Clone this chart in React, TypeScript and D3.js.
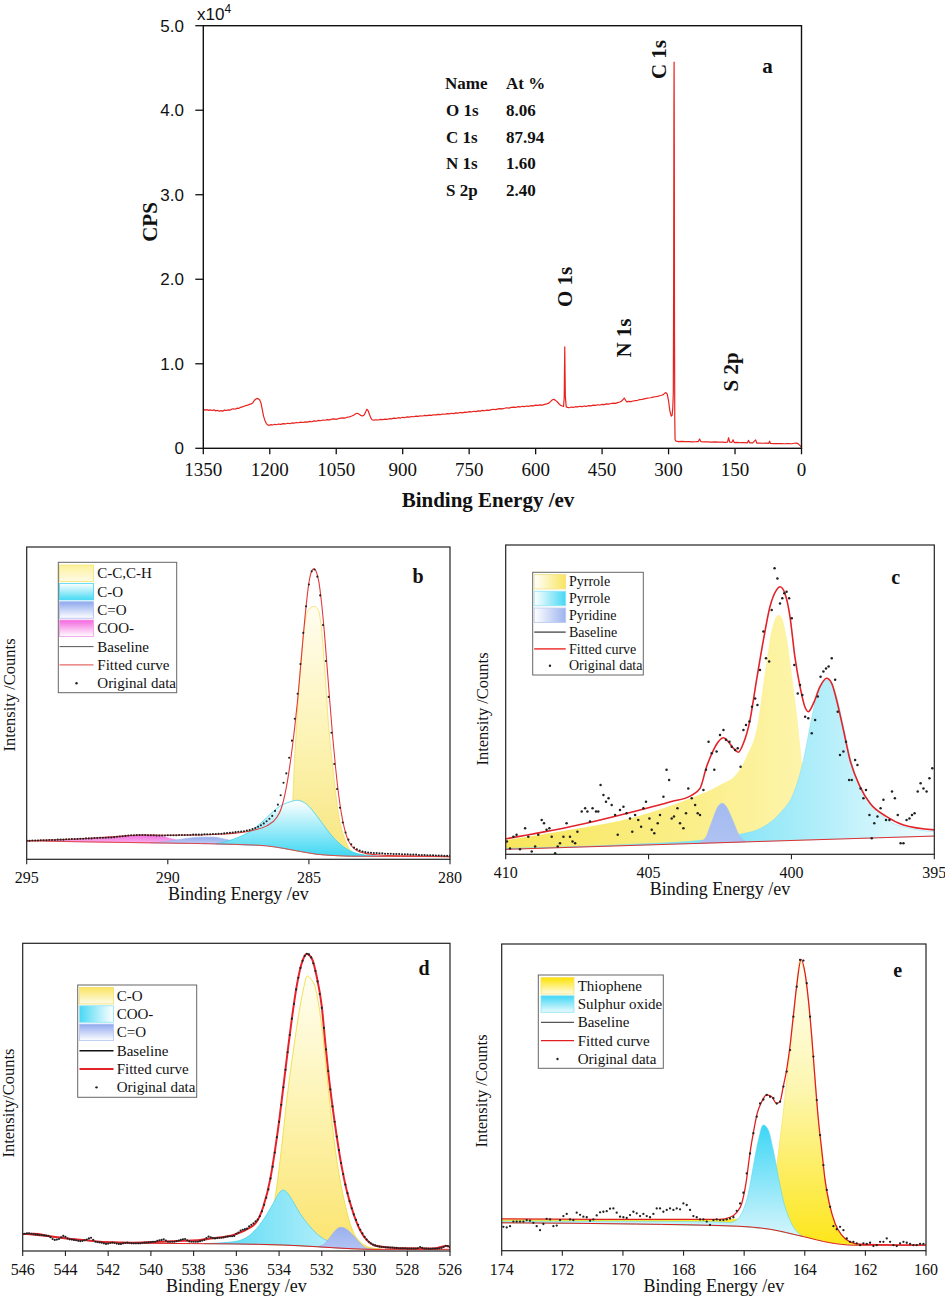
import React from "react";
import * as d3 from "d3";

type Pt = [number, number];

const SERIF = '"Liberation Serif", "Times New Roman", Times, serif';
const SANS = '"Liberation Sans", Arial, Helvetica, sans-serif';

// ================= Panel a : survey spectrum =================
const surveyTicksX = [1350, 1200, 1050, 900, 750, 600, 450, 300, 150, 0];
const surveyTicksY = [0, 1, 2, 3, 4, 5];
const surveyTickLabelsY = ["0", "1.0", "2.0", "3.0", "4.0", "5.0"];
// [binding energy (eV), CPS x10^4]
const surveySpectrum: Pt[] = [
  [1350,0.46],[1346,0.452],[1342,0.458],[1338,0.449],[1334,0.455],[1330,0.447],[1326,0.455],[1322,0.443],[1318,0.45],[1314,0.438],
  [1310,0.446],[1306,0.44],[1302,0.452],[1298,0.447],[1294,0.455],[1290,0.452],[1286,0.463],[1282,0.468],[1278,0.462],[1274,0.475],
  [1270,0.472],[1266,0.485],[1262,0.49],[1258,0.498],[1254,0.505],[1250,0.51],[1246,0.52],[1242,0.525],[1238,0.54],[1235,0.565],
  [1232,0.58],[1229,0.59],[1226,0.585],[1223,0.575],[1220,0.54],[1217,0.46],[1214,0.38],[1211,0.33],[1208,0.295],[1205,0.278],
  [1201,0.272],[1197,0.28],[1193,0.276],[1189,0.284],[1185,0.279],[1180,0.287],[1175,0.283],[1170,0.292],[1165,0.288],[1160,0.296],
  [1155,0.291],[1150,0.3],[1145,0.297],[1140,0.305],[1135,0.302],[1130,0.31],[1125,0.305],[1120,0.313],[1115,0.309],[1110,0.318],
  [1105,0.314],[1100,0.325],[1095,0.32],[1090,0.33],[1085,0.326],[1080,0.335],[1075,0.332],[1070,0.34],[1065,0.336],[1060,0.345],
  [1055,0.348],[1050,0.343],[1045,0.352],[1040,0.356],[1035,0.36],[1030,0.358],[1025,0.368],[1020,0.372],[1015,0.382],[1011,0.392],
  [1007,0.405],[1003,0.415],[999,0.405],[995,0.39],[991,0.382],[987,0.395],[984,0.425],[981,0.462],[978,0.445],[975,0.4],
  [972,0.36],[969,0.338],[965,0.333],[960,0.338],[955,0.335],[950,0.342],[945,0.339],[940,0.346],[935,0.343],[930,0.35],
  [925,0.348],[920,0.357],[915,0.353],[910,0.362],[905,0.358],[900,0.367],[895,0.364],[890,0.372],[885,0.368],[880,0.376],
  [875,0.373],[870,0.38],[865,0.377],[860,0.385],[855,0.382],[850,0.389],[845,0.386],[840,0.393],[835,0.39],[830,0.397],
  [825,0.395],[820,0.402],[815,0.399],[810,0.406],[805,0.403],[800,0.41],[795,0.407],[790,0.415],[785,0.411],[780,0.419],
  [775,0.416],[770,0.424],[765,0.42],[760,0.428],[755,0.426],[750,0.433],[745,0.43],[740,0.438],[735,0.434],[730,0.442],
  [725,0.44],[720,0.448],[715,0.444],[710,0.452],[705,0.449],[700,0.457],[695,0.462],[690,0.458],[685,0.466],[680,0.47],
  [675,0.466],[670,0.474],[665,0.48],[660,0.476],[655,0.484],[650,0.488],[645,0.485],[640,0.492],[635,0.489],[630,0.497],
  [625,0.494],[620,0.5],[615,0.497],[610,0.505],[605,0.502],[600,0.51],[595,0.507],[590,0.514],[585,0.511],[580,0.52],
  [575,0.525],[570,0.535],[566,0.555],[562,0.575],[559,0.58],[556,0.57],[552,0.555],[548,0.53],[544,0.51],[540,0.5],
  [537,0.495],[535.5,0.6],[534.3,1.2],[533,0.62],[531,0.49],[528,0.485],[524,0.48],[520,0.488],[515,0.485],[510,0.492],
  [505,0.49],[500,0.497],[495,0.494],[490,0.5],[485,0.497],[480,0.505],[475,0.502],[470,0.51],[465,0.507],[460,0.515],
  [455,0.512],[450,0.52],[445,0.517],[440,0.525],[435,0.522],[430,0.53],[425,0.535],[420,0.532],[415,0.54],[410,0.548],
  [406,0.558],[403,0.575],[400,0.595],[397,0.568],[394,0.55],[390,0.555],[385,0.552],[380,0.56],[375,0.565],[370,0.568],
  [365,0.575],[360,0.578],[355,0.585],[350,0.59],[345,0.595],[340,0.598],[335,0.605],[330,0.61],[325,0.615],[320,0.622],
  [316,0.628],[312,0.635],[309,0.65],[306,0.66],[303,0.64],[300,0.56],[297,0.44],[294,0.38],[292,0.39],[290.5,0.48],
  [289.3,0.65],[288.5,2.0],[287.9,4.0],[287.5,4.57],[287.1,3.6],[286.6,1.4],[286,0.35],[285.3,0.1],[283,0.085],[278,0.08],
  [270,0.083],[262,0.078],[254,0.08],[246,0.076],[238,0.078],[233,0.08],[230,0.11],[227,0.078],[220,0.075],[212,0.077],
  [204,0.073],[196,0.075],[188,0.072],[180,0.074],[172,0.07],[167,0.072],[164.5,0.125],[162,0.072],[157,0.07],[154.5,0.1],
  [152,0.068],[145,0.07],[138,0.066],[130,0.068],[122,0.065],[119.5,0.095],[117,0.064],[110,0.065],[103.5,0.1],[101,0.062],
  [95,0.063],[88,0.06],[80,0.061],[74,0.058],[72,0.085],[70,0.057],[62,0.056],[54,0.055],[46,0.056],[38,0.054],
  [30,0.055],[22,0.054],[16,0.06],[12,0.062],[8,0.055],[5,0.04],[2,0.025],[0,0.015],
];
const tableHeader = ["Name", "At %"];
const elementNames = ["O 1s", "C 1s", "N 1s", "S 2p"];
const atomicPercents = ["8.06", "87.94", "1.60", "2.40"];
const peakNames = ["C 1s", "O 1s", "N 1s", "S 2p"];
const peakLabelEnergy = [305.7, 517.7, 384.6, 143.2];
const peakLabelCps = [4.6, 1.91, 1.305, 0.903];

// ================= Panel b : C 1s =================
const bTicks = [295, 290, 285, 280];
const bLegendLabels = ["C-C,C-H", "C-O", "C=O", "COO-", "Baseline", "Fitted curve", "Original data"];
const bBaseline: Pt[] = [[295,5.9],[292.4,5.5],[290,5.2],[287.7,4.8],[286.5,4.3],[285.9,3.5],[285.3,2.5],[284.7,1.6],[284.1,1.2],[283.5,1.0],[280,0.85]];
const bCC: Pt[] = [[285.85,4],[285.7,7],[285.62,12],[285.57,18.7],[285.53,27.7],[285.43,43.7],[285.32,59.7],[285.14,75.7],[285.0,80],[284.81,81],[284.65,79.5],[284.58,75.7],[284.43,59.7],[284.31,43.7],[284.13,27.7],[283.96,14.9],[283.72,6.4],[283.45,2.2],[283.2,1.2]];
const bCO: Pt[] = [[288.3,5.0],[287.68,6.4],[286.97,9.6],[286.5,13.3],[286.03,17],[285.67,18.4],[285.4,18.9],[285.08,17.6],[284.72,13.9],[284.37,9.6],[284.02,5.9],[283.54,2.7],[282.95,1.3],[282.3,0.95]];
const bCdO: Pt[] = [[290.6,5.25],[290,5.8],[289.4,6.6],[288.8,7.1],[288.4,7.1],[287.9,6.3],[287.4,5.3],[287.0,4.75]];
const bCOO: Pt[] = [[294.3,5.8],[293.5,6.3],[292.5,6.9],[291.6,7.5],[290.9,7.8],[290.3,7.5],[289.8,6.4],[289.3,5.4],[289.0,5.1]];
const bFitted: Pt[] = [[295,5.9],[293.5,6.4],[292.4,6.9],[291.5,7.5],[290.87,7.8],[290.04,7.7],[288.86,7.8],[288,8.1],[287.68,8.3],[286.97,9.3],[286.5,10.7],[286.14,13.4],[286.0,15.8],[285.9,18.8],[285.8,23],[285.7,28.5],[285.6,35],[285.5,42.5],[285.4,51],[285.3,61],[285.2,71.5],[285.1,81],[285.0,88.5],[284.9,92.3],[284.82,93],[284.75,92.3],[284.65,89],[284.55,82],[284.45,72.5],[284.35,61],[284.25,49.5],[284.15,38.5],[284.05,29],[283.95,21],[283.85,14.8],[283.75,10.2],[283.65,7],[283.5,4.4],[283.3,2.8],[283.0,1.9],[282.5,1.4],[281.5,1.1],[280,0.85]];
const bDotStart = 295;
const bDotStep = 0.1;
const bDotValues = [
  5.9,5.9,6.0,6.0,6.0,6.1,6.1,6.1,6.2,6.2,
  6.2,6.3,6.3,6.3,6.4,6.4,6.5,6.5,6.5,6.6,
  6.6,6.7,6.7,6.7,6.8,6.8,6.9,6.9,6.9,7.0,
  7.0,7.1,7.2,7.3,7.4,7.5,7.6,7.7,7.7,7.8,
  7.8,7.8,7.8,7.7,7.7,7.7,7.6,7.6,7.6,7.6,
  7.7,7.7,7.7,7.7,7.8,7.8,7.8,7.8,7.8,7.9,
  7.9,7.9,7.9,8.0,8.0,8.0,8.1,8.1,8.2,8.2,
  8.3,8.4,8.5,8.6,8.7,8.8,8.9,9.0,9.2,9.4,
  9.7,10.0,10.4,10.9,11.5,12.2,13.0,13.9,15.5,17.5,
  20.5,24.5,27.5,32.5,38,45,53,62.5,72.5,81,
  88,92.2,92.8,90.5,84.5,75,63.5,52,40.5,30.5,
  22.5,16.5,11.8,8.6,6.3,4.8,3.8,3.2,2.8,2.5,
  2.3,2.2,2.1,2.0,2.0,1.9,1.9,1.8,1.8,1.8,
  1.7,1.7,1.7,1.6,1.6,1.6,1.5,1.5,1.5,1.4,
  1.4,1.4,1.3,1.3,1.3,1.2,1.2,1.2,1.1,1.1,
  1.1,
];

// ================= Panel c : N 1s =================
const cTicks = [410, 405, 400, 395];
const cLegendLabels = ["Pyrrole", "Pyrrole", "Pyridine", "Baseline", "Fitted curve", "Original data"];
const cBaseline: Pt[] = [[410,1.6],[395,5.9]];
const cPyrroleA: Pt[] = [[410,4.6],[407.75,7.9],[405.4,12.2],[403.67,17.6],[402.5,22.4],[401.9,26.2],[401.57,31.6],[401.2,41.3],[400.93,58.5],[400.69,72.5],[400.52,77],[400.44,77.4],[400.34,76.6],[400.17,70.4],[399.99,58.5],[399.8,44.5],[399.64,30.5],[399.5,19],[399.3,10],[399.0,6.5],[398.5,5]];
const cPyrroleB: Pt[] = [[410,1.9],[405.4,3.3],[403.08,4.6],[401.92,6.25],[400.98,8.9],[400.4,13.3],[399.93,19.7],[399.58,30.5],[399.35,41.3],[399.12,51],[398.95,55],[398.77,56.4],[398.6,55],[398.42,51],[398.18,41.3],[397.95,31.6],[397.6,21.9],[397.13,15.4],[396.55,10.6],[395.85,8.4],[395,7.3]];
const cPyridine: Pt[] = [[403.2,4.0],[403.0,5.5],[402.85,9],[402.73,12],[402.6,15],[402.42,16.5],[402.25,15],[402.1,12],[402.03,10.5],[401.85,6.5],[401.6,4.2]];
const cFitted: Pt[] = [[410,5.0],[407.75,8.9],[405.4,14.1],[404.23,17],[403.53,18.9],[403.2,21.3],[402.97,28.3],[402.73,33.7],[402.56,36.4],[402.38,37.7],[402.21,36.4],[402.03,34.3],[401.86,33],[401.68,35.9],[401.45,43.4],[401.22,56.4],[400.98,69.3],[400.75,80.1],[400.52,85.5],[400.4,86.5],[400.23,84.4],[400.05,76.8],[399.88,63.9],[399.7,54.2],[399.53,47.7],[399.41,46.1],[399.23,48.8],[399.0,54.2],[398.77,56.9],[398.59,55.3],[398.42,49.9],[398.18,40.2],[397.95,30.5],[397.6,21.9],[397.25,16.5],[396.67,12.2],[396.08,9.5],[395,7.9]];
const cDots: Pt[] = [
  [409.96,4.1],[409.85,1.9],[409.73,5.7],[409.62,6.3],[409.50,1.6],[409.32,8.4],[409.21,5.7],[409.09,0.9],[408.97,2.5],[408.86,6.3],
  [408.74,11.1],[408.66,10.0],[408.57,7.9],[408.47,8.4],[408.39,5.7],[408.27,0.3],[408.18,2.5],[408.10,3.6],[407.98,5.7],[407.87,10.0],
  [407.75,5.7],[407.66,4.1],[407.57,3.6],[407.49,7.3],[407.34,13.8],[407.22,14.9],[407.14,13.8],[407.05,10.6],[406.96,14.9],[406.84,13.8],
  [406.76,13.8],[406.68,22.4],[406.58,19.2],[406.49,17.0],[406.40,18.1],[406.29,15.9],[406.17,12.7],[406.08,6.3],[406.00,14.3],[405.88,15.4],
  [405.77,13.3],[405.65,11.6],[405.57,7.3],[405.47,12.7],[405.36,11.1],[405.26,8.9],[405.18,14.9],[405.09,17.0],[404.97,11.6],[404.89,7.9],
  [404.80,6.8],[404.68,10.0],[404.60,12.7],[404.48,18.6],[404.37,27.3],[404.28,24.0],[404.19,11.6],[404.11,12.2],[403.99,14.9],[403.90,10.0],
  [403.78,8.4],[403.69,13.3],[403.61,21.3],[403.49,18.1],[403.37,15.9],[403.28,13.3],[403.20,12.7],[403.08,20.8],[402.99,27.3],[402.90,36.4],
  [402.79,32.7],[402.70,27.3],[402.62,33.2],[402.50,38.6],[402.38,40.2],[402.29,37.0],[402.17,36.4],[402.09,34.8],[401.97,33.7],[401.88,34.3],
  [401.78,28.3],[401.68,40.2],[401.59,41.8],[401.47,42.9],[401.38,47.7],[401.27,50.4],[401.19,48.3],[401.10,59.6],[400.98,72.0],[400.89,63.4],
  [400.78,62.3],[400.69,79.0],[400.59,92.5],[400.49,89.2],[400.40,81.1],[400.32,82.8],[400.25,84.4],[400.17,84.9],[400.08,82.8],[399.99,76.3],
  [399.90,61.2],[399.78,52.0],[399.70,54.7],[399.62,51.5],[399.52,44.5],[399.41,44.0],[399.29,39.1],[399.17,43.4],[399.08,51.0],[398.98,57.4],
  [398.88,59.1],[398.79,60.1],[398.70,60.7],[398.59,63.4],[398.47,56.4],[398.38,46.1],[398.30,32.1],[398.18,33.2],[398.09,36.4],[397.98,24.0],
  [397.89,24.0],[397.77,30.5],[397.69,28.9],[397.58,21.3],[397.48,18.1],[397.39,20.8],[397.27,12.7],[397.19,5.2],[397.10,10.0],[396.99,12.2],
  [396.88,14.9],[396.78,17.6],[396.69,11.1],[396.57,11.1],[396.48,20.3],[396.38,18.1],[396.28,12.7],[396.18,3.6],[396.08,3.6],[395.97,11.1],
  [395.87,11.6],[395.78,12.7],[395.69,13.3],[395.58,20.3],[395.48,23.0],[395.38,21.3],[395.27,20.3],[395.17,24.6],[395.07,27.8],
];

// ================= Panel d : O 1s =================
const dTicks = [546, 544, 542, 540, 538, 536, 534, 532, 530, 528, 526];
const dLegendLabels = ["C-O", "COO-", "C=O", "Baseline", "Fitted curve", "Original data"];
const dBaseline: Pt[] = [[546,5.5],[543.94,4.1],[542.38,3.0],[540.04,2.5],[536.14,2.3],[533.8,1.95],[532.24,1.4],[530.68,0.76],[529.6,0.54],[526,0.54]];
const dCO: Pt[] = [[535.3,2.2],[534.74,4.7],[534.35,11.2],[534.11,20.9],[533.88,33.9],[533.64,49.1],[533.33,65.3],[533.02,79.4],[532.85,85.5],[532.68,89.4],[532.5,88.3],[532.32,85.9],[532.0,72.9],[531.77,57.7],[531.54,42.6],[531.3,29.6],[530.99,17.7],[530.68,9],[530.21,3],[529.6,0.9],[529.2,0.6]];
const dCOO: Pt[] = [[537.5,2.4],[536.14,3],[535.36,5.2],[534.74,10.1],[534.27,15.5],[534.0,18.8],[533.83,19.8],[533.65,19.2],[533.49,17.7],[533.02,12.2],[532.55,7.9],[532.08,4.7],[531.46,2.5],[531,1.3],[530.5,0.8]];
const dCdO: Pt[] = [[532.1,1.6],[531.9,2.2],[531.6,4.6],[531.35,6.8],[531.12,7.7],[530.9,7.3],[530.52,5.0],[530.2,2.5],[529.9,0.9],[529.6,0.6]];
const dFitted: Pt[] = [[546,5.5],[545.5,5.6],[544.7,4.8],[543.94,4.1],[543,3.5],[542.38,3.0],[541.5,2.8],[540.82,2.7],[539.5,3.0],[538.5,3.3],[537.7,3.6],[537,4.2],[536.14,5.2],[535.52,7.0],[535.05,9.5],[534.74,14.4],[534.42,23.1],[534.19,32.8],[533.99,42.6],[533.8,53.4],[533.61,64.2],[533.41,75.1],[533.18,85.9],[532.94,93.5],[532.71,96.5],[532.47,95.1],[532.24,89.2],[532.0,79.4],[531.85,68.6],[531.69,57.7],[531.54,49.1],[531.3,37.2],[531.07,27.4],[530.84,19.8],[530.52,12.2],[530.21,6.8],[529.9,3.6],[529.43,1.6],[528.34,0.9],[526.78,0.8],[526.16,1.6],[526,1.4]];
const dDotStart = 546;
const dDotStep = 0.1;
const dDotValues = [
  5.5,5.6,5.7,5.7,5.6,5.5,5.4,5.3,5.2,5.2,
  5.1,5.0,4.9,4.5,3.9,3.6,3.7,3.9,4.4,4.9,
  4.6,4.1,3.8,3.7,3.6,3.5,3.3,3.2,3.3,3.5,
  3.7,4.1,4.3,3.6,3.0,2.9,2.8,2.7,2.5,2.3,
  2.4,2.6,2.7,2.6,2.4,2.3,2.3,2.5,2.6,2.7,
  2.6,2.5,2.5,2.5,2.5,2.5,2.6,2.7,2.7,2.8,
  2.9,3.0,3.0,3.3,3.5,3.6,3.8,3.4,3.0,3.0,
  3.0,3.0,3.2,3.4,3.6,3.8,3.9,3.5,3.1,3.0,
  3.0,3.0,3.0,3.2,3.4,3.6,4.2,4.7,4.4,4.2,
  4.1,4.2,4.3,4.3,4.4,4.6,4.7,4.8,4.8,4.9,
  5.6,6.0,6.6,6.9,7.1,7.3,8.0,8.5,9.0,9.6,
  10.2,11.3,12.9,15.0,17.3,20.0,23.6,27.4,32.0,37.0,
  42.0,47.5,53.2,58.9,64.6,70.2,75.5,80.3,85.0,88.8,
  92.0,94.3,95.9,96.6,96.4,95.4,93.5,91.0,87.6,83.5,
  79.0,72.5,65.5,58.5,52.5,47.0,42.0,37.2,32.8,28.6,
  25.0,21.6,18.8,16.2,13.9,11.9,10.1,8.5,6.9,5.7,
  4.6,3.7,3.0,2.5,2.1,1.8,1.6,1.4,1.3,1.3,
  1.2,1.2,1.1,1.1,1.0,1.0,0.9,0.9,0.9,0.9,
  0.8,0.8,0.8,0.8,0.8,0.9,1.3,1.0,0.8,0.8,
  0.7,0.7,0.8,0.8,0.8,0.9,1.0,1.3,1.7,1.6,
  1.2,
];

// ================= Panel e : S 2p =================
const eTicks = [174, 172, 170, 168, 166, 164, 162, 160];
const eLegendLabels = ["Thiophene", "Sulphur oxide", "Baseline", "Fitted curve", "Original data"];
const eBaseline: Pt[] = [[174,9.1],[169.55,8.7],[166.25,8.0],[165.15,7.0],[164.05,4.6],[163.17,2.6],[162.4,1.8],[160,1.8]];
const eThiophene: Pt[] = [[174,10.2],[170,10.2],[167,10.2],[166.2,10.3],[165.59,10.5],[165.26,13.3],[165.09,18.7],[164.93,27.4],[164.82,36.1],[164.65,50.2],[164.49,65.4],[164.32,81.7],[164.16,94.6],[164.05,92],[163.99,90.4],[163.88,81.7],[163.77,69.8],[163.66,55.7],[163.55,42.6],[163.44,32.8],[163.33,23],[163.19,15.4],[163,8.9],[162.78,5.1],[162.51,2.9],[162.18,2.1],[162,1.8]];
const eSulphurOxide: Pt[] = [[174,9.6],[170,9.6],[167,9.4],[166.47,9.2],[166.25,10],[166.03,13.3],[165.86,18.7],[165.7,27.4],[165.53,36.1],[165.37,41],[165.2,39.3],[165.04,32.8],[164.87,24.1],[164.71,16.5],[164.49,10],[164.21,5.7],[164.05,4.6]];
const eFitted: Pt[] = [[174,10.4],[170,10.2],[167.5,10.2],[166.8,10.2],[166.47,10.9],[166.25,12.4],[166.08,15.4],[165.94,22],[165.81,31.7],[165.7,38.3],[165.57,44.8],[165.42,48.6],[165.26,50.8],[165.09,50.2],[164.93,48],[164.82,48.6],[164.71,53.5],[164.6,58.9],[164.49,66.5],[164.38,76.3],[164.27,86.1],[164.12,95],[163.99,90.4],[163.88,81.7],[163.77,69.8],[163.66,55.7],[163.55,42.6],[163.44,32.8],[163.33,23],[163.19,15.4],[163,8.9],[162.78,5.1],[162.51,2.9],[162.18,2.1],[160,1.8]];
const eDotStart = 173.945;
const eDotStep = 0.11;
const eDotValues = [
  7.8,7.6,8.0,9.5,9.5,9.5,9.5,10.0,9.8,9.1,
  8.0,6.7,8.7,10.4,10.2,8.0,8.2,10.0,11.3,12.0,
  10.2,10.0,12.4,11.7,11.1,10.9,9.8,10.2,11.5,12.5,
  12.7,12.9,13.7,13.8,12.4,11.1,10.9,10.7,11.6,12.7,
  12.2,11.3,12.0,11.3,10.9,12.0,13.8,13.8,12.7,13.3,
  13.8,13.3,13.8,13.5,15.4,14.9,13.3,11.3,10.9,10.2,
  10.2,9.5,8.4,10.0,10.2,10.0,10.0,10.2,10.5,10.9,
  13.0,15.4,18.9,25.2,31.7,38.3,43.7,48.0,49.3,50.8,
  50.2,49.7,48.0,48.6,53.5,58.4,65.4,76.3,86.1,94.8,
  94.6,87.2,76.3,63.3,49.1,37.7,27.9,19.8,14.3,8.0,
  7.0,7.8,6.7,4.0,2.9,2.9,2.4,1.8,2.4,2.2,
  2.6,1.5,1.8,2.9,2.9,4.0,2.9,1.8,1.5,2.4,
  2.9,2.6,2.2,1.8,1.8,2.2,2.2,
];

// ================= helpers =================
type Grad = { id: string; horiz: boolean; stops: [number, string][] };
type Comp = { pts: Pt[]; grad: Grad; stroke: string; sw: number };
type LegendRow =
  | { kind: "swatch"; grad: Grad; stroke: string }
  | { kind: "line"; color: string; width: number }
  | { kind: "dot" };

type PanelCfg = {
  id: string;
  left: number; right: number; top: number; bottom: number;
  domain: [number, number];
  ticks: number[];
  comps: Comp[];
  baseline: Pt[];
  baselineColor: string;
  fitted: Pt[];
  fittedColor: string;
  fittedWidth: number;
  dots: Pt[];
  dotR: number;
  label: string; labelX: number; labelY: number;
  yTitle: string; yTitleX: number; yTitleY: number;
  legend: { x: number; y: number; w: number; h: number; row0: number; rowH: number; swX: number; swW: number; swH: number; textX: number; font: number; rows: LegendRow[]; labels: string[] };
};

const gridDots = (start: number, step: number, vals: number[]): Pt[] =>
  vals.map((v, i) => [start - i * step, v] as Pt);

function GradDef({ g }: { g: Grad }) {
  return (
    <linearGradient id={g.id} x1="0" y1="0" x2={g.horiz ? "1" : "0"} y2={g.horiz ? "0" : "1"}>
      {g.stops.map(([o, c], i) => (
        <stop key={i} offset={o} stopColor={c} />
      ))}
    </linearGradient>
  );
}

function Spectrum({ cfg }: { cfg: PanelCfg }) {
  const x = d3.scaleLinear().domain(cfg.domain).range([cfg.left, cfg.right]);
  const y = d3.scaleLinear().domain([0, 100]).range([cfg.bottom, cfg.top]);
  const base = d3
    .scaleLinear()
    .domain(cfg.baseline.map((d) => d[0]))
    .range(cfg.baseline.map((d) => d[1]))
    .clamp(true);
  const area = d3
    .area<Pt>()
    .x((d) => x(d[0]))
    .y0((d) => y(Math.min(base(d[0]), d[1])))
    .y1((d) => y(d[1]))
    .curve(d3.curveMonotoneX);
  const line = d3
    .line<Pt>()
    .x((d) => x(d[0]))
    .y((d) => y(d[1]))
    .curve(d3.curveMonotoneX);
  const clipId = `clip-${cfg.id}`;
  const lg = cfg.legend;
  const midX = (cfg.left + cfg.right) / 2;
  return (
    <g>
      <defs>
        <clipPath id={clipId}>
          <rect x={cfg.left} y={cfg.top} width={cfg.right - cfg.left} height={cfg.bottom - cfg.top} />
        </clipPath>
        {cfg.comps.map((c) => (
          <GradDef key={c.grad.id} g={c.grad} />
        ))}
        {lg.rows.map((r, i) => (r.kind === "swatch" ? <GradDef key={"lg" + i} g={r.grad} /> : null))}
      </defs>
      <g clipPath={`url(#${clipId})`}>
        {cfg.comps.map((c, i) => (
          <path key={i} d={area(c.pts) || ""} fill={`url(#${c.grad.id})`} stroke={c.stroke} strokeWidth={c.sw} />
        ))}
        <path d={line(cfg.baseline) || ""} fill="none" stroke={cfg.baselineColor} strokeWidth={1} />
        <path d={line(cfg.fitted) || ""} fill="none" stroke={cfg.fittedColor} strokeWidth={cfg.fittedWidth} />
        {cfg.dots.map((d, i) => (
          <circle key={i} cx={x(d[0])} cy={y(d[1])} r={cfg.dotR} fill="#222" />
        ))}
      </g>
      <rect x={cfg.left} y={cfg.top} width={cfg.right - cfg.left} height={cfg.bottom - cfg.top} fill="none" stroke="#222" strokeWidth={1.2} />
      {cfg.ticks.map((t) => (
        <g key={t}>
          <line x1={x(t)} x2={x(t)} y1={cfg.bottom} y2={cfg.bottom + 5} stroke="#222" strokeWidth={1.1} />
          <text x={x(t)} y={cfg.bottom + 24} textAnchor="middle" fontFamily={SERIF} fontSize={16} fill="#111">
            {t}
          </text>
        </g>
      ))}
      <text x={midX} y={cfg.bottom + 41} textAnchor="middle" fontFamily={SERIF} fontSize={18} fill="#111">
        Binding Energy /ev
      </text>
      <text transform={`translate(${cfg.yTitleX},${cfg.yTitleY}) rotate(-90)`} textAnchor="middle" fontFamily={SERIF} fontSize={16.5} fill="#111">
        {cfg.yTitle}
      </text>
      <text x={cfg.labelX} y={cfg.labelY} textAnchor="middle" fontFamily={SERIF} fontWeight="bold" fontSize={20} fill="#111">
        {cfg.label}
      </text>
      {/* legend */}
      <rect x={lg.x} y={lg.y} width={lg.w} height={lg.h} fill="#fff" stroke="#666" strokeWidth={1} />
      {lg.rows.map((r, i) => {
        const cy = lg.row0 + i * lg.rowH;
        let mark: React.ReactNode = null;
        if (r.kind === "swatch") {
          mark = <rect x={lg.swX} y={cy - lg.swH / 2} width={lg.swW} height={lg.swH} fill={`url(#${r.grad.id})`} stroke={r.stroke} strokeWidth={0.8} />;
        } else if (r.kind === "line") {
          mark = <line x1={lg.swX} x2={lg.swX + lg.swW} y1={cy} y2={cy} stroke={r.color} strokeWidth={r.width} />;
        } else {
          mark = <circle cx={lg.swX + lg.swW / 2} cy={cy} r={1.2} fill="#222" />;
        }
        return (
          <g key={i}>
            {mark}
            <text x={lg.textX} y={cy + lg.font * 0.34} fontFamily={SERIF} fontSize={lg.font} fill="#111">
              {lg.labels[i]}
            </text>
          </g>
        );
      })}
    </g>
  );
}

const g = (id: string, horiz: boolean, stops: [number, string][]): Grad => ({ id, horiz, stops });

const panelB: PanelCfg = {
  id: "b", left: 26.7, right: 450, top: 547, bottom: 859.3,
  domain: [295, 280], ticks: bTicks,
  comps: [
    { pts: bCC, grad: g("gbCC", false, [[0, "#fffdf0"], [0.5, "#fdf4b8"], [1, "#f7e680"]]), stroke: "#f2df62", sw: 0.8 },
    { pts: bCOO, grad: g("gbCOO", false, [[0, "#f36ddf"], [1, "#f9b4ec"]]), stroke: "#f07ee0", sw: 0.6 },
    { pts: bCdO, grad: g("gbCdO", false, [[0, "#93abee"], [1, "#c6d3f6"]]), stroke: "#98aeee", sw: 0.6 },
    { pts: bCO, grad: g("gbCO", false, [[0, "#ffffff"], [1, "#3fd8f3"]]), stroke: "#3fd3ef", sw: 0.8 },
  ],
  baseline: bBaseline, baselineColor: "#e04848",
  fitted: bFitted, fittedColor: "#e03a3a", fittedWidth: 1.1,
  dots: gridDots(bDotStart, bDotStep, bDotValues), dotR: 1.05,
  label: "b", labelX: 418, labelY: 583,
  yTitle: "Intensity /Counts", yTitleX: 15, yTitleY: 695,
  legend: {
    x: 58.3, y: 562.3, w: 118.4, h: 130.4, row0: 573.3, rowH: 18.33, swX: 59.5, swW: 34, swH: 16.5, textX: 97.3, font: 15,
    rows: [
      { kind: "swatch", grad: g("lbCC", false, [[0, "#fcf19a"], [1, "#fffbe8"]]), stroke: "#f4e46c" },
      { kind: "swatch", grad: g("lbCO", false, [[0, "#ffffff"], [1, "#47daf4"]]), stroke: "#45d6f2" },
      { kind: "swatch", grad: g("lbCdO", false, [[0, "#8ea8ee"], [1, "#ffffff"]]), stroke: "#a9bcf2" },
      { kind: "swatch", grad: g("lbCOO", false, [[0, "#f466df"], [1, "#ffffff"]]), stroke: "#f39be6" },
      { kind: "line", color: "#555", width: 1 },
      { kind: "line", color: "#e86a6a", width: 1.3 },
      { kind: "dot" },
    ],
    labels: bLegendLabels,
  },
};

const panelC: PanelCfg = {
  id: "c", left: 505.7, right: 934.3, top: 545, bottom: 854.3,
  domain: [410, 395], ticks: cTicks,
  comps: [
    { pts: cPyrroleA, grad: g("gcA", true, [[0, "#f8e65c"], [0.6, "#fbef8c"], [1, "#fef6b4"]]), stroke: "none", sw: 0 },
    { pts: cPyrroleB, grad: g("gcB", true, [[0, "#55d9f3"], [0.55, "#8be5f7"], [0.75, "#b5effa"], [1, "#f2fcff"]]), stroke: "#7fdff2", sw: 0.5 },
    { pts: cPyridine, grad: g("gcP", false, [[0, "#a4baf0"], [1, "#aec2f2"]]), stroke: "#a4baf0", sw: 0.5 },
  ],
  baseline: cBaseline, baselineColor: "#e03030",
  fitted: cFitted, fittedColor: "#e3232a", fittedWidth: 1.6,
  dots: cDots, dotR: 1.25,
  label: "c", labelX: 895.7, labelY: 584,
  yTitle: "Intensity /Counts", yTitleX: 488, yTitleY: 709,
  legend: {
    x: 532.7, y: 572.3, w: 110.6, h: 102.7, row0: 581.7, rowH: 16.8, swX: 534.2, swW: 31.5, swH: 14.5, textX: 569, font: 14,
    rows: [
      { kind: "swatch", grad: g("lcA", true, [[0, "#ffffff"], [1, "#f9e45c"]]), stroke: "#f2e28a" },
      { kind: "swatch", grad: g("lcB", true, [[0, "#ffffff"], [1, "#45d8f5"]]), stroke: "#8fe3f4" },
      { kind: "swatch", grad: g("lcP", true, [[0, "#ffffff"], [1, "#9db4ee"]]), stroke: "#bac9f2" },
      { kind: "line", color: "#444", width: 1.3 },
      { kind: "line", color: "#e33", width: 1.5 },
      { kind: "dot" },
    ],
    labels: cLegendLabels,
  },
};

const panelD: PanelCfg = {
  id: "d", left: 22.7, right: 450, top: 943.3, bottom: 1251,
  domain: [546, 526], ticks: dTicks,
  comps: [
    { pts: dCO, grad: g("gdCO", false, [[0, "#fffef0"], [0.5, "#fdf3b0"], [1, "#fbe46e"]]), stroke: "#f0de44", sw: 0.9 },
    { pts: dCOO, grad: g("gdCOO", true, [[0, "#52d9f4"], [1, "#c5f2fb"]]), stroke: "#4dd3ef", sw: 0.8 },
    { pts: dCdO, grad: g("gdCdO", false, [[0, "#9bb0ee"], [1, "#b3c4f3"]]), stroke: "#9bb0ee", sw: 0.6 },
  ],
  baseline: dBaseline, baselineColor: "#d92020",
  fitted: dFitted, fittedColor: "#e3232a", fittedWidth: 2,
  dots: gridDots(dDotStart, dDotStep, dDotValues), dotR: 1.1,
  label: "d", labelX: 424, labelY: 975,
  yTitle: "Intensity/Counts", yTitleX: 14, yTitleY: 1103,
  legend: {
    x: 77.7, y: 985, w: 119, h: 112.3, row0: 995.7, rowH: 18.33, swX: 79.5, swW: 34, swH: 16.5, textX: 116.7, font: 15,
    rows: [
      { kind: "swatch", grad: g("ldCO", false, [[0, "#fbe462"], [1, "#fffbea"]]), stroke: "#f3e06a" },
      { kind: "swatch", grad: g("ldCOO", true, [[0, "#48d8f4"], [1, "#ffffff"]]), stroke: "#8fe3f4" },
      { kind: "swatch", grad: g("ldCdO", false, [[0, "#8fa8ee"], [1, "#ffffff"]]), stroke: "#b4c5f2" },
      { kind: "line", color: "#111", width: 1.4 },
      { kind: "line", color: "#e3232a", width: 2 },
      { kind: "dot" },
    ],
    labels: dLegendLabels,
  },
};

const panelE: PanelCfg = {
  id: "e", left: 501.7, right: 926, top: 944, bottom: 1250.7,
  domain: [174, 160], ticks: eTicks,
  comps: [
    { pts: eThiophene, grad: g("geT", false, [[0, "#fffff5"], [0.45, "#fdf6b0"], [1, "#fde61a"]]), stroke: "#f6e04a", sw: 0.6 },
    { pts: eSulphurOxide, grad: g("geS", false, [[0, "#3dd6f5"], [1, "#d5f5fc"]]), stroke: "#5dd8f0", sw: 0.6 },
  ],
  baseline: eBaseline, baselineColor: "#d92020",
  fitted: eFitted, fittedColor: "#e02020", fittedWidth: 1.3,
  dots: gridDots(eDotStart, eDotStep, eDotValues), dotR: 1.15,
  label: "e", labelX: 897.7, labelY: 977,
  yTitle: "Intensity /Counts", yTitleX: 487, yTitleY: 1091,
  legend: {
    x: 538.3, y: 975, w: 125, h: 93.3, row0: 985.7, rowH: 18.33, swX: 541, swW: 33, swH: 16.5, textX: 577.7, font: 15,
    rows: [
      { kind: "swatch", grad: g("leT", false, [[0, "#fde200"], [1, "#fffce8"]]), stroke: "#f6e36a" },
      { kind: "swatch", grad: g("leS", false, [[0, "#3fd6f5"], [1, "#eafbfe"]]), stroke: "#8fe3f4" },
      { kind: "line", color: "#555", width: 1.4 },
      { kind: "line", color: "#e02020", width: 1.3 },
      { kind: "dot" },
    ],
    labels: eLegendLabels,
  },
};

function Survey() {
  const L = 203.3, R = 801.5, T = 25.7, B = 448.3;
  const x = d3.scaleLinear().domain([1350, 0]).range([L, R]);
  const y = d3.scaleLinear().domain([0, 5]).range([B, T]);
  const line = d3.line<Pt>().x((d) => x(d[0])).y((d) => y(d[1]));
  const tX = 445, vX = 506, row0 = 89.3, rowH = 26.7;
  return (
    <g>
      <path d={line(surveySpectrum) || ""} fill="none" stroke="#e8231d" strokeWidth={1.2} strokeLinejoin="round" />
      <rect x={L} y={T} width={R - L} height={B - T} fill="none" stroke="#111" strokeWidth={1.4} />
      {surveyTicksX.map((t) => (
        <g key={t}>
          <line x1={x(t)} x2={x(t)} y1={B} y2={B + 6} stroke="#111" strokeWidth={1.3} />
          <text x={x(t)} y={476} textAnchor="middle" fontFamily={SERIF} fontSize={19} fill="#111">
            {t}
          </text>
        </g>
      ))}
      {surveyTicksY.map((t, i) => (
        <g key={t}>
          <line x1={L - 8} x2={L} y1={y(t)} y2={y(t)} stroke="#111" strokeWidth={1.3} />
          <text x={184} y={y(t) + 6} textAnchor="end" fontFamily={SANS} fontSize={17} fill="#111">
            {surveyTickLabelsY[i]}
          </text>
        </g>
      ))}
      <text x={197} y={20} fontFamily={SANS} fontSize={17} fill="#111">
        x10
        <tspan fontSize={12} dy={-7}>4</tspan>
      </text>
      <text x={488} y={507} textAnchor="middle" fontFamily={SERIF} fontWeight="bold" fontSize={21} fill="#111">
        Binding Energy /ev
      </text>
      <text transform={`translate(157,222) rotate(-90)`} textAnchor="middle" fontFamily={SERIF} fontWeight="bold" fontSize={21} fill="#111">
        CPS
      </text>
      {peakNames.map((n, i) => (
        <text key={n} transform={`translate(${x(peakLabelEnergy[i])},${y(peakLabelCps[i])}) rotate(-90)`} textAnchor="middle" fontFamily={SERIF} fontWeight="bold" fontSize={21} fill="#111">
          {n}
        </text>
      ))}
      <text x={767.5} y={73.3} textAnchor="middle" fontFamily={SERIF} fontWeight="bold" fontSize={21} fill="#111">
        a
      </text>
      <text x={tX} y={row0} fontFamily={SERIF} fontWeight="bold" fontSize={17} fill="#111">{tableHeader[0]}</text>
      <text x={vX} y={row0} fontFamily={SERIF} fontWeight="bold" fontSize={17} fill="#111">{tableHeader[1]}</text>
      {elementNames.map((n, i) => (
        <g key={n}>
          <text x={tX + 1} y={row0 + (i + 1) * rowH} fontFamily={SERIF} fontWeight="bold" fontSize={17} fill="#111">{n}</text>
          <text x={vX} y={row0 + (i + 1) * rowH} fontFamily={SERIF} fontWeight="bold" fontSize={17} fill="#111">{atomicPercents[i]}</text>
        </g>
      ))}
    </g>
  );
}

export default function App() {
  return (
    <svg
      width={945}
      height={1299}
      viewBox="0 0 945 1299"
      style={{ position: "absolute", left: 0, top: 0, background: "#fff" }}
    >
      <rect x={0} y={0} width={945} height={1299} fill="#fff" />
      <Survey />
      <Spectrum cfg={panelB} />
      <Spectrum cfg={panelC} />
      <Spectrum cfg={panelD} />
      <Spectrum cfg={panelE} />
    </svg>
  );
}
